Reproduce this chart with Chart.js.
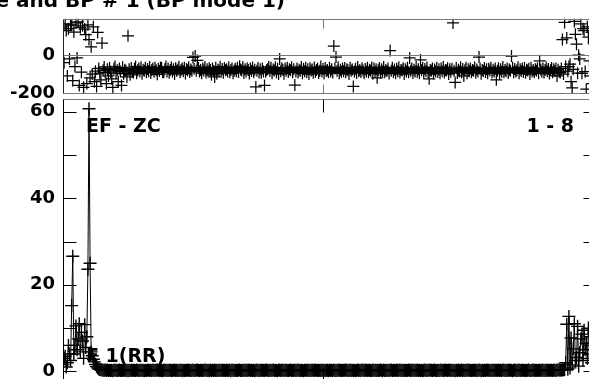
<!DOCTYPE html>
<html><head><meta charset="utf-8">
<script src="https://cdn.jsdelivr.net/npm/chart.js@4.4.1/dist/chart.umd.min.js"></script>
<style>
html,body{margin:0;padding:0;background:#fff;overflow:hidden;width:589px;height:379px;}
#wrap{position:relative;width:589px;height:379px;overflow:hidden;background:#fff;}
canvas{position:absolute;left:0;}
#top{top:0;} #bot{top:80px;}
</style></head><body>
<div id="wrap"><canvas id="bot" width="620" height="320"></canvas><canvas id="top" width="620" height="125"></canvas></div>
<script>
// ---------- data ----------
const titleText = 'e and BP # 1 (BP mode 1)';
const noteTexts = ['EF - ZC', '1 - 8', 'F 1(RR)'];

// upper panel series, one value per sample
const upperValues = [
 150, -40, 165, 130, -110, 140, -20, 160, 158, -135,
 122, -60, 170, -15, 176, -160, 146, -90, 155, -170,
 138, 108, -150, 160, 82, -120, 44, -100, 150, -140,
 -85, -165, 120, -70, -95, -130, 64, -80, -62, -92,
 -150, -75, -110, -68, -88, -125, -170, -72, -60, -95,
 -80, -140, -70, -86, -160, -64, -98, -77, -82, -115,
 102, -75, -104, -68, -88, -92, -72, -60, -95, -80,
 -70, -86, -64, -98, -77, -82, -66, -90, -73, -85,
 -62, -94, -78, -70, -88, -67, -80, -101, -72, -84,
 -65, -68, -91, -90, -75, -60, -86, -71, -93, -79,
 -65, -88, -74, -99, -69, -82, -76, -61, -91, -78,
 -70, -85, -67, -97, -73, -80, -64, -89, -76, -83,
 -12, -72, -5, -83, -28, -66, -87, -78, -95, -70,
 -81, -63, -92, -75, -86, -69, -79, -104, -71, -84,
 -115, -66, -98, -77, -82, -61, -88, -73, -93, -68,
 -80, -75, -87, -64, -91, -78, -70, -96, -83, -72,
 -85, -67, -89, -59, -76, -81, -63, -94, -74, -86,
 -69, -79, -97, -71, -84, -65, -90, -77, -168, -82,
 -68, -92, -75, -93, -70, -86, -160, -88, -79, -73,
 -62, -84, -67, -95, -76, -81, -64, -90, -72, -99,
 -20, -85, -69, -78, -98, -71, -83, -66, -89, -74,
 -80, -64, -91, -75, -158, -87, -70, -92, -77, -82,
 -63, -96, -72, -85, -67, -89, -74, -100, -69, -81,
 -76, -93, -65, -88, -78, -71, -94, -83, -60, -87,
 -73, -97, -68, -84, -79, -90, -66, -86, -75, -92,
 48, -70, -10, -82, -64, -95, -77, -88, -71, -85,
 -68, -91, -74, -80, -99, -66, -83, -76, -165, -87,
 -72, -94, -62, -85, -79, -89, -69, -81, -96, -73,
 -86, -67, -90, -77, -83, -65, -98, -71, -88, -75,
 -120, -80, -68, -93, -74, -86, -63, -91, -78, -84,
 -70, -97, 24, -82, -66, -89, -76, -95, -72, -85,
 -64, -92, -79, -81, -69, -100, -74, -87, -67, -90,
 -15, -83, -71, -94, -77, -86, -62, -88, -75, -96,
 -25, -80, -68, -93, -73, -84, -65, -91, -125, -78,
 -82, -70, -97, -76, -87, -66, -89, -74, -95, -71,
 -85, -63, -92, -79, -81, -69, -99, -75, -88, -72,
 170, -83, -144, -68, -94, -77, -86, -64, -90, -73,
 -110, -80, -67, -96, -74, -85, -70, -91, -78, -82,
 -65, -93, -76, -87, -10, -71, -98, -79, -84, -68,
 -89, -75, -95, -72, -81, -66, -92, -77, -86, -70,
 -130, -83, -69, -97, -74, -88, -63, -90, -78, -85,
 -71, -94, -76, -82, -5, -67, -91, -73, -87, -80,
 -64, -96, -75, -84, -70, -89, -68, -93, -77, -81,
 -72, -100, -66, -86, -79, -90, -74, -83, -69, -95,
 -30, -76, -88, -71, -92, -78, -65, -85, -73, -97,
 -80, -68, -90, -75, -84, -70, -110, -77, -88,
 -92, -70, 82, -100, 173, -60, 91, -85, -60, -48,
 -140, -173, -75, 178, 110, 58, -95, 0, -20, 165,
 -96, 140, 130, -87, -180, 150, 95, -30, -110, 120,
 -150, 60, -60, 170
];

// lower panel series, one value per sample
const lowerValues = [
 1.5, 3, 3.5, 1, 2, 6, 4, 2.5, 15.2, 26.6,
 4, 6, 10.5, 5, 7.5, 11, 4.5, 9, 7, 3,
 10.8, 5.5, 8, 23.6, 60.7, 25, 4.5, 3.6, 2.8, 2.2,
 1.6, 1.1, 0.8, 0.55, 0.45, 0.35, 0.3, 0.28, 0.25, 0.3,
 .22, .3, .18, .26, .2, .28, .15, .25, .3, .19,
 .24, .17, .29, .22, .27, .2, .31, .18, .25, .23,
 .16, .28, .21, .3, .19, .26, .23, .17, .29, .2,
 .27, .22, .3, .18, .24, .15, .28, .21, .26, .32,
 .19, .25, .2, .29, .17, .27, .23, .3, .18, .24,
 .21, .28, .16, .26, .3, .2, .25, .19, .31, .22,
 .27, .18, .24, .29, .2, .23, .17, .28, .22, .3,
 .15, .26, .21, .27, .19, .31, .24, .18, .25, .2,
 .29, .22, .17, .3, .23, .26, .19, .28, .21, .25,
 .18, .3, .24, .2, .27, .16, .29, .22, .26, .19,
 .31, .21, .25, .18, .28, .23, .2, .3, .17, .26,
 .22, .29, .19, .24, .27, .15, .3, .21, .26, .2,
 .28, .18, .25, .31, .22, .19, .27, .23, .17, .29,
 .2, .26, .3, .18, .24, .21, .28, .16, .25, .3,
 .19, .27, .22, .29, .2, .24, .18, .31, .23, .26,
 .17, .28, .21, .25, .3, .19, .27, .22, .15, .29,
 .24, .2, .3, .18, .26, .23, .28, .21, .19, .27,
 .31, .22, .25, .17, .29, .2, .24, .3, .18, .26,
 .21, .28, .16, .27, .23, .19, .3, .22, .25, .2,
 .29, .18, .26, .31, .21, .24, .17, .28, .22, .3,
 .19, .25, .2, .27, .23, .15, .29, .21, .26, .18,
 .3, .22, .28, .19, .24, .31, .2, .26, .17, .25,
 .23, .29, .18, .27, .21, .3, .19, .24, .22, .28,
 .16, .26, .3, .2, .25, .18, .29, .23, .27, .21,
 .31, .19, .24, .28, .17, .22, .3, .2, .26, .23,
 .18, .27, .21, .29, .25, .15, .3, .22, .24, .19,
 .28, .2, .26, .31, .18, .23, .27, .21, .29, .17,
 .25, .3, .19, .24, .22, .28, .2, .26, .18, .3,
 .23, .17, .29, .21, .27, .25, .19, .31, .22, .24,
 .2, .28, .16, .26, .3, .21, .25, .18, .29, .23,
 .27, .19, .24, .3, .2, .22, .28, .17, .26, .31,
 .21, .25, .18, .29, .23, .2, .27, .3, .19, .24,
 .22, .28, .15, .26, .21, .3, .18, .25, .29, .2,
 .24, .17, .27, .23, .31, .19, .26, .21, .28, .22,
 .3, .18, .25, .2, .29, .24, .16, .27, .22, .26,
 .19, .31, .23, .28, .2, .25, .18, .3, .21, .27,
 .24, .17, .29, .22, .26, .19, .3, .23, .2, .28,
 .18, .25, .31, .21, .27, .16, .24, .29, .22, .26,
 .2, .3, .19, .25, .23, .28, .17, .27, .21, .24,
 .29, .22, .18, .26, .31, .2, .25, .28, .19, .23,
 .27, .21, .3, .24, .17, .26, .22, .29, .2, .25,
 .28, .23, .19, .3, .26, .22, .29, .33, .3,
 0.3, 0.25, 0.35, 0.3, 0.4, 2, 10.9, 0.5, 12.7, 0.8,
 7.7, 1.5, 5.2, 11, 2.5, 3.2, 10.4, 1.2, 4.3, 7.5,
 8.6, 2.5, 9.5, 5, 6.5, 3, 10, 4, 8, 2,
 6, 9, 3.5, 7
];

const upperYTicks = [-200, 0];
const upperYLabels = ['-200', '0'];
const lowerYTicks = [0, 10, 20, 30, 40, 50, 60];
const lowerYLabels = ['0', '', '20', '', '40', '', '60'];
const xTicks = [240];

// ---------- drawing ----------
const FONT = 'DejaVu Sans';
Chart.defaults.font.family = FONT;

const framePlugin = {
  id: 'frame',
  afterDatasetsDraw(chart, args, o) {
    const {ctx, chartArea: a, scales: {x, y}} = chart;
    const L = Math.round(a.left) + 0.5, R = Math.round(a.right) + 0.5;
    const T = Math.round(a.top) + 0.5, B = Math.round(a.bottom) + 0.5;
    ctx.save();
    ctx.lineWidth = 1;
    ctx.strokeStyle = o.lineColor;
    ctx.beginPath();
    ctx.moveTo(L, T); ctx.lineTo(R, T);
    ctx.moveTo(L, B); ctx.lineTo(R, B);
    (o.gridAt || []).forEach(v => {
      const py = Math.round(y.getPixelForValue(v)) + 0.5;
      ctx.moveTo(L, py); ctx.lineTo(R, py);
    });
    ctx.moveTo(R, T); ctx.lineTo(R, B);
    ctx.stroke();
    ctx.strokeStyle = o.tickColor;
    ctx.beginPath();
    o.xTicks.forEach(v => {
      const px = Math.round(x.getPixelForValue(v)) + 0.5;
      ctx.moveTo(px, T); ctx.lineTo(px, T + o.xTickLen);
      ctx.moveTo(px, B); ctx.lineTo(px, B - o.xTickLen);
    });
    (o.yTicks || []).forEach(v => {
      const py = Math.round(y.getPixelForValue(v)) + 0.5;
      ctx.moveTo(L, py); ctx.lineTo(L + o.yTickLen, py);
      ctx.moveTo(R, py); ctx.lineTo(R - o.yTickLen, py);
    });
    ctx.stroke();
    ctx.strokeStyle = o.axisColor;
    ctx.beginPath();
    ctx.moveTo(L, T); ctx.lineTo(L, B);
    ctx.stroke();
    ctx.fillStyle = '#000';
    (o.notes || []).forEach(n => {
      ctx.font = 'bold ' + n.size + 'px "' + FONT + '"';
      ctx.textAlign = n.align;
      ctx.textBaseline = 'alphabetic';
      const px = n.canvas ? n.x : x.getPixelForValue(n.x);
      const py = n.canvas ? n.y : y.getPixelForValue(n.y);
      ctx.fillText(n.text, px, py);
    });
    ctx.restore();
  }
};

const tickFont = {family: FONT, size: 18, weight: 'bold'};

new Chart(document.getElementById('top'), {
  type: 'scatter',
  data: {datasets: [{
    data: upperValues.map((v, i) => ({x: i, y: v})),
    showLine: false,
    pointStyle: 'cross', pointRadius: 6, pointHoverRadius: 6,
    pointBorderWidth: 1.25, borderColor: '#000', backgroundColor: '#000'
  }]},
  options: {
    responsive: false, animation: false, events: [],
    layout: {padding: {left: 0, right: 24, top: 12, bottom: 32}},
    plugins: {
      legend: {display: false}, tooltip: {enabled: false},
      frame: {
        lineColor: '#7a7a7a', tickColor: '#7a7a7a', axisColor: '#222',
        gridAt: [0], xTicks: xTicks, xTickLen: 9,
        notes: [{text: titleText, x: 285, y: 7, canvas: true, align: 'right', size: 20}]
      }
    },
    scales: {
      x: {type: 'linear', min: 0, max: upperValues.length - 1, display: false},
      y: {
        min: -200, max: 192,
        afterBuildTicks: s => { s.ticks = upperYTicks.map(v => ({value: v})); },
        afterFit: s => { s.width = 63; },
        grid: {display: false, drawTicks: false}, border: {display: false},
        ticks: {padding: 8, color: '#000', font: tickFont,
          callback: v => upperYLabels[upperYTicks.indexOf(v)]}
      }
    }
  },
  plugins: [framePlugin]
});

new Chart(document.getElementById('bot'), {
  type: 'scatter',
  data: {datasets: [{
    data: lowerValues.map((v, i) => ({x: i, y: v})),
    showLine: true, borderColor: '#000', borderWidth: 1,
    pointStyle: 'cross', pointRadius: 6.5, pointHoverRadius: 6.5,
    pointBorderWidth: 1.4, pointBorderColor: '#000', backgroundColor: '#000'
  }]},
  options: {
    responsive: false, animation: false, events: [],
    layout: {padding: {left: 0, right: 24, top: 13, bottom: 20}},
    plugins: {
      legend: {display: false}, tooltip: {enabled: false},
      frame: {
        lineColor: '#7a7a7a', tickColor: '#000', axisColor: '#000',
        xTicks: xTicks, xTickLen: 13, yTicks: lowerYTicks, yTickLen: 13,
        notes: [
          {text: noteTexts[0], x: 21.2, y: 55.4, align: 'left', size: 19},
          {text: noteTexts[1], x: 471.7, y: 55.4, align: 'right', size: 19},
          {text: noteTexts[2], x: 21.2, y: 2.15, align: 'left', size: 19}
        ]
      }
    },
    scales: {
      x: {type: 'linear', min: 0, max: lowerValues.length - 1, display: false},
      y: {
        min: -2, max: 63,
        afterBuildTicks: s => { s.ticks = lowerYTicks.map(v => ({value: v})); },
        afterFit: s => { s.width = 63; },
        grid: {display: false, drawTicks: false}, border: {display: false},
        ticks: {padding: 8, color: '#000', font: tickFont,
          callback: v => lowerYLabels[lowerYTicks.indexOf(v)]}
      }
    }
  },
  plugins: [framePlugin]
});
</script>
</body></html>
